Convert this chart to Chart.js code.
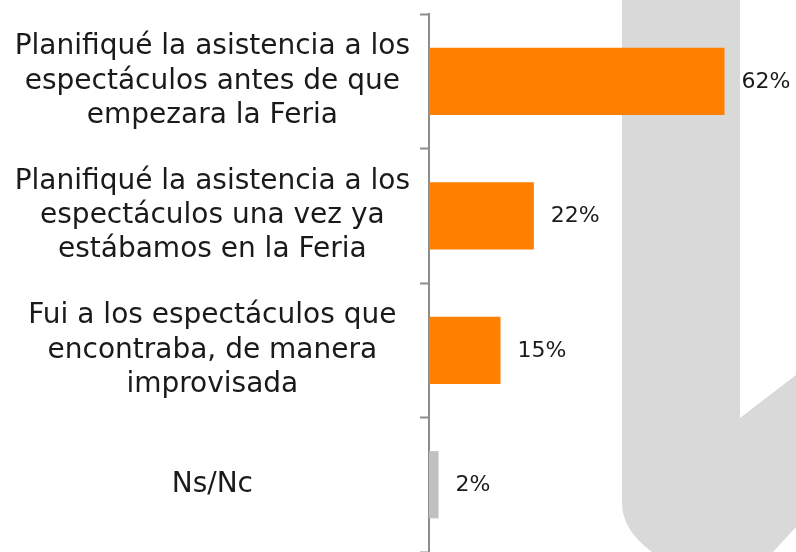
<!DOCTYPE html>
<html>
<head>
<meta charset="utf-8">
<script src="https://cdn.jsdelivr.net/npm/chart.js@4"></script>
<style>
  html, body { margin: 0; padding: 0; background: #fff; overflow: hidden; }
  canvas { display: block; }
</style>
</head>
<body>
<canvas id="chart" width="796" height="552"></canvas>
<script>
// Data
const categories = [
  ['Planifiqué la asistencia a los', 'espectáculos antes de que', 'empezara la Feria'],
  ['Planifiqué la asistencia a los', 'espectáculos una vez ya', 'estábamos en la Feria'],
  ['Fui a los espectáculos que', 'encontraba, de manera', 'improvisada'],
  ['Ns/Nc']
];
const values = [62, 22, 15, 2];
const valueLabels = ['62%', '22%', '15%', '2%'];
const barColors = ['#ff7f00', '#ff7f00', '#ff7f00', '#c0c0c0'];

const FONT = '"DejaVu Sans", sans-serif';

// Grey logo shape behind the chart
const watermark = {
  id: 'watermark',
  beforeDraw(chart) {
    const c = chart.ctx;
    c.save();
    c.fillStyle = '#d9d9d9';
    c.beginPath();
    c.moveTo(622, 0);
    c.lineTo(740, 0);
    c.lineTo(740, 418);
    c.lineTo(796, 375);
    c.lineTo(796, 527);
    c.lineTo(773, 552);
    c.lineTo(652, 552);
    c.quadraticCurveTo(622, 530, 622, 503);
    c.closePath();
    c.fill();
    c.restore();
  }
};

// Value labels at the end of each bar
const barLabels = {
  id: 'barLabels',
  afterDatasetsDraw(chart) {
    const c = chart.ctx;
    const meta = chart.getDatasetMeta(0);
    c.save();
    c.font = '22px ' + FONT;
    c.fillStyle = '#1a1a1a';
    c.textAlign = 'left';
    c.textBaseline = 'middle';
    meta.data.forEach((bar, i) => {
      c.fillText(valueLabels[i], bar.x + 17, bar.y + 1);
    });
    c.restore();
  }
};

new Chart(document.getElementById('chart'), {
  type: 'bar',
  data: {
    labels: categories,
    datasets: [{
      data: values,
      backgroundColor: barColors,
      borderWidth: 0,
      barPercentage: 0.5,
      categoryPercentage: 1
    }]
  },
  options: {
    indexAxis: 'y',
    responsive: false,
    animation: false,
    devicePixelRatio: 1,
    layout: { padding: { top: 14, right: 0, bottom: 0, left: 0 } },
    plugins: { legend: { display: false }, tooltip: { enabled: false } },
    scales: {
      x: {
        display: false,
        min: 0,
        max: 77
      },
      y: {
        afterFit(scale) {
          scale.width = 429;
          scale.paddingTop = 0;
          scale.paddingBottom = 0;
        },
        grid: {
          offset: true,
          drawOnChartArea: false,
          drawTicks: true,
          tickLength: 9,
          tickWidth: 2,
          tickColor: '#8c8c8c'
        },
        border: { color: '#8c8c8c', width: 2 },
        ticks: {
          crossAlign: 'center',
          padding: 10,
          color: '#1a1a1a',
          font: { family: FONT, size: 28, lineHeight: 1.22 }
        }
      }
    }
  },
  plugins: [watermark, barLabels]
});
</script>
</body>
</html>
